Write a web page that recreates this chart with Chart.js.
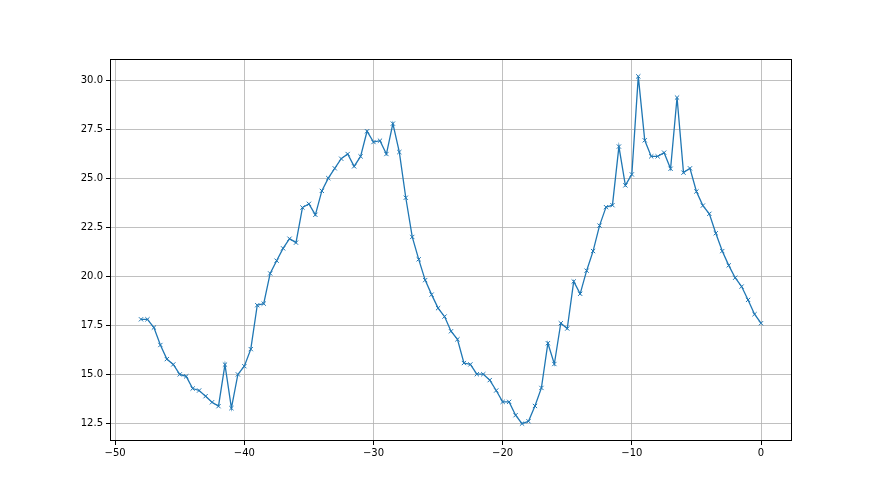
<!DOCTYPE html>
<html>
<head>
<meta charset="utf-8">
<script src="https://cdn.jsdelivr.net/npm/chart.js@4/dist/chart.umd.min.js"></script>
<style>
  html, body { margin: 0; padding: 0; background: #fff; }
  #wrap { width: 880px; height: 495px; }
</style>
</head>
<body>
<div id="wrap"><canvas id="myChart" width="880" height="495"></canvas></div>
<script>
// x positions of the samples
const xValues = [
  -48, -47.5, -47, -46.5, -46, -45.5, -45, -44.5, -44, -43.5,
  -43, -42.5, -42, -41.5, -41, -40.5, -40, -39.5, -39, -38.5,
  -38, -37.5, -37, -36.5, -36, -35.5, -35, -34.5, -34, -33.5,
  -33, -32.5, -32, -31.5, -31, -30.5, -30, -29.5, -29, -28.5,
  -28, -27.5, -27, -26.5, -26, -25.5, -25, -24.5, -24, -23.5,
  -23, -22.5, -22, -21.5, -21, -20.5, -20, -19.5, -19, -18.5,
  -18, -17.5, -17, -16.5, -16, -15.5, -15, -14.5, -14, -13.5,
  -13, -12.5, -12, -11.5, -11, -10.5, -10, -9.5, -9, -8.5,
  -8, -7.5, -7, -6.5, -6, -5.5, -5, -4.5, -4, -3.5,
  -3, -2.5, -2, -1.5, -1, -0.5, 0
]

// y values
const yValues = [
  17.80, 17.80, 17.38, 16.49, 15.77, 15.50, 14.99, 14.89, 14.27, 14.17,
  13.88, 13.57, 13.37, 15.49, 13.27, 14.99, 15.41, 16.28, 18.52, 18.60,
  20.14, 20.79, 21.42, 21.91, 21.71, 23.50, 23.69, 23.13, 24.35, 25.00,
  25.50, 25.99, 26.23, 25.60, 26.11, 27.39, 26.84, 26.91, 26.23, 27.78,
  26.33, 24.00, 22.00, 20.86, 19.80, 19.06, 18.37, 17.94, 17.19, 16.78,
  15.57, 15.50, 15.00, 15.00, 14.70, 14.17, 13.59, 13.59, 12.91, 12.48,
  12.60, 13.38, 14.30, 16.58, 15.52, 17.60, 17.33, 19.73, 19.10, 20.28,
  21.28, 22.58, 23.52, 23.62, 26.61, 24.63, 25.19, 30.19, 26.93, 26.11,
  26.11, 26.30, 25.48, 29.11, 25.28, 25.50, 24.32, 23.60, 23.18, 22.19,
  21.28, 20.55, 19.92, 19.47, 18.79, 18.06, 17.60
]

const xTicks = [-50, -40, -30, -20, -10, 0]
const yTicks = [12.5, 15.0, 17.5, 20.0, 22.5, 25.0, 27.5, 30.0]

const points = xValues.map((x, i) => ({ x: x, y: yValues[i] }))

// moldura preta em volta da area do grafico (como no matplotlib)
const frame = {
  id: 'frame',
  afterDraw(chart) {
    const a = chart.chartArea
    const c = chart.ctx
    c.save()
    c.strokeStyle = '#000'
    c.lineWidth = 1
    c.strokeRect(a.left + 0.5, a.top + 0.5, a.right - a.left - 1, a.bottom - a.top - 1)
    c.restore()
  }
}

const bg = {
  id: 'bg',
  beforeDraw(chart) {
    const c = chart.ctx
    c.save()
    c.fillStyle = '#fff'
    c.fillRect(0, 0, chart.width, chart.height)
    c.restore()
  }
}

const fmtMinus = v => String(v).replace('-', '\u2212')

const ctx = document.getElementById('myChart')

const config = {
  type: 'line',
  data: {
    datasets: [{
      data: points,
      borderColor: '#1f77b4',
      backgroundColor: '#1f77b4',
      borderWidth: 1.3,
      pointStyle: 'crossRot',
      pointRadius: 3,
      pointBorderWidth: 1,
      pointBorderColor: '#1f77b4',
      tension: 0,
      fill: false
    }]
  },
  options: {
    responsive: false,
    animation: false,
    devicePixelRatio: 1,
    layout: { padding: { top: 59, right: 88, left: 0, bottom: 0 } },
    plugins: {
      legend: { display: false },
      tooltip: { enabled: false }
    },
    scales: {
      x: {
        type: 'linear',
        min: -50.4,
        max: 2.4,
        afterBuildTicks: s => { s.ticks = xTicks.map(v => ({ value: v })) },
        afterFit: s => { s.height = 54 },
        border: { display: false },
        grid: { color: '#b0b0b0', lineWidth: 0.8, tickColor: '#000', tickLength: 4, tickWidth: 1 },
        ticks: {
          color: '#000',
          padding: 2,
          maxRotation: 0,
          font: { family: 'DejaVu Sans', size: 10 },
          callback: v => fmtMinus(v)
        }
      },
      y: {
        type: 'linear',
        min: 11.594,
        max: 31.076,
        afterBuildTicks: s => { s.ticks = yTicks.map(v => ({ value: v })) },
        afterFit: s => { s.width = 110 },
        border: { display: false },
        grid: { color: '#b0b0b0', lineWidth: 0.8, tickColor: '#000', tickLength: 4, tickWidth: 1 },
        ticks: {
          color: '#000',
          padding: 3,
          font: { family: 'DejaVu Sans', size: 10 },
          callback: v => v.toFixed(1)
        }
      }
    }
  },
  plugins: [bg, frame]
}

const myChart = new Chart(ctx, config)
</script>
</body>
</html>
